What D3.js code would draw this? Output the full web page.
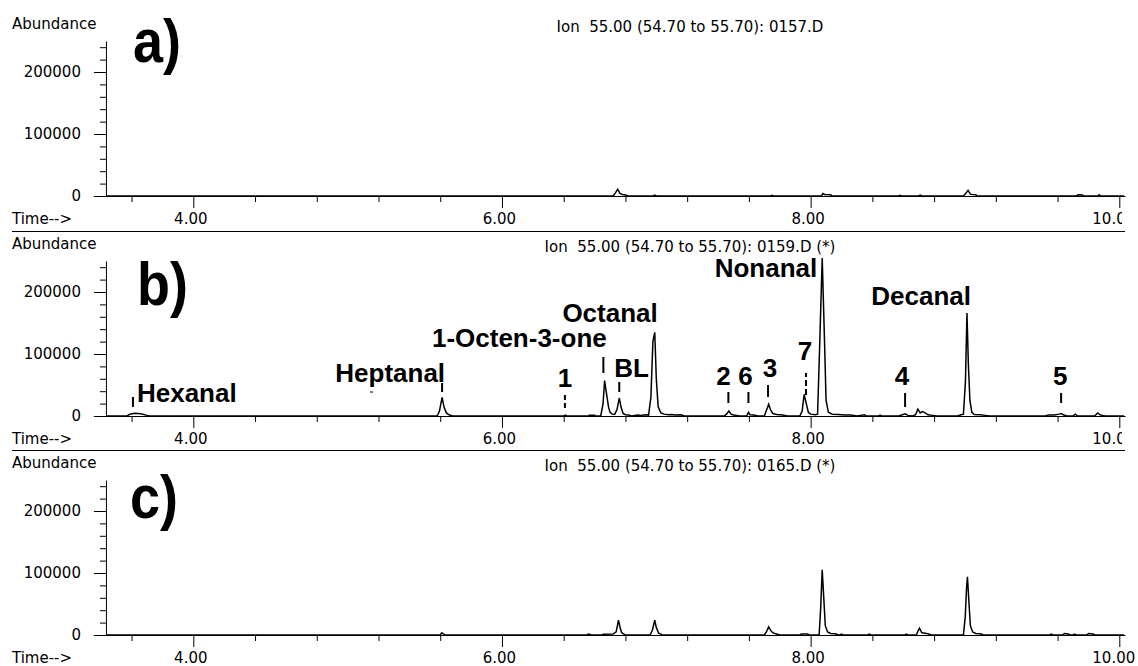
<!DOCTYPE html>
<html>
<head>
<meta charset="utf-8">
<script src="https://cdnjs.cloudflare.com/ajax/libs/d3/7.8.5/d3.min.js"></script>
<style>
  body { margin: 0; background: #fff; }
  svg { display: block; }
  .small { font-family: "DejaVu Sans", sans-serif; font-size: 15px; fill: #000; white-space: pre; }
  .tick text { font-family: "DejaVu Sans", sans-serif; font-size: 15px; fill: #000; }
  .peak { font-family: "Liberation Sans", Arial, sans-serif; font-weight: bold; font-size: 26px; fill: #000; }
  .letter { font-family: "Liberation Sans", Arial, sans-serif; font-weight: bold; font-size: 62px; fill: #000; }
</style>
</head>
<body>
<div id="chart"></div>
<script>
// Data (time in min, abundance)
var panelNames = ["a)", "b)", "c)"];
var fileNames = ["0157.D", "0159.D (*)", "0165.D (*)"];
var ionText = "Ion  55.00 (54.70 to 55.70): ";

var majorTimes = [4, 6, 8, 10];
var minorTimes = [3.6, 4.4, 4.8, 5.2, 5.6, 6.4, 6.8, 7.2, 7.6, 8.4, 8.8, 9.2, 9.6];
var majorAbund = [0, 100000, 200000];
var minorAbund = [20000, 40000, 60000, 80000, 120000, 140000, 160000, 180000, 220000, 240000];

var traceA = [
  [3.44, 0], [6.72, 0], [6.735, 5000], [6.75, 11000], [6.765, 4000], [6.78, 2500], [6.80, 1500], [6.82, 0],
  [6.98, 0], [6.99, 1500], [7.00, 0], [7.74, 0], [7.75, 1000], [7.76, 0],
  [8.07, 0], [8.08, 4000], [8.09, 2500], [8.13, 2000], [8.14, 0],
  [8.57, 0], [8.58, 1000], [8.59, 0], [8.70, 0], [8.71, 1500], [8.72, 0],
  [8.99, 0], [9.005, 4000], [9.02, 9000], [9.035, 3000], [9.05, 2500], [9.07, 2000], [9.08, 0],
  [9.72, 0], [9.735, 2000], [9.76, 1500], [9.77, 0], [9.86, 0], [9.87, 2000], [9.88, 0], [10.03, 0]
];

var traceB = [
  [3.44, 0], [3.57, 0], [3.59, 3000], [3.62, 4500], [3.66, 3500], [3.70, 1000], [3.72, 0],
  [5.58, 0], [5.595, 8000], [5.612, 30000], [5.625, 14000], [5.64, 5000], [5.66, 1500], [5.68, 0],
  [6.40, 0], [6.41, 1500], [6.42, 0], [6.56, 0], [6.565, 1200], [6.60, 1200], [6.605, 0],
  [6.64, 0], [6.655, 20000], [6.665, 57000], [6.675, 40000], [6.69, 15000], [6.70, 6000], [6.715, 3000],
  [6.73, 2500], [6.745, 10000], [6.76, 29000], [6.772, 14000], [6.785, 4000], [6.80, 2000], [6.82, 1500], [6.84, 0],
  [6.88, 1500], [6.90, 1000], [6.93, 2000], [6.95, 1500], [6.965, 30000], [6.978, 120000], [6.99, 135000],
  [7.00, 60000], [7.012, 15000], [7.03, 5000], [7.05, 3000], [7.08, 2000], [7.10, 2500], [7.12, 1500], [7.16, 2000], [7.18, 0],
  [7.44, 0], [7.455, 3000], [7.47, 8000], [7.485, 3000], [7.50, 1500], [7.52, 1000], [7.54, 0],
  [7.585, 0], [7.597, 6000], [7.607, 2000], [7.63, 1500], [7.66, 0],
  [7.70, 0], [7.715, 10000], [7.728, 19000], [7.74, 10000], [7.755, 4000], [7.78, 2500], [7.82, 1500], [7.85, 0],
  [7.93, 0], [7.945, 8000], [7.958, 35000], [7.97, 22000], [7.985, 6000], [8.00, 3000], [8.03, 2000],
  [8.045, 3000], [8.06, 125000], [8.075, 255000], [8.09, 120000], [8.10, 25000], [8.115, 6000], [8.14, 3000],
  [8.18, 2500], [8.22, 1500], [8.26, 1500], [8.30, 0], [8.35, 2000], [8.36, 0], [8.44, 0], [8.45, 1500], [8.46, 0],
  [8.57, 0], [8.59, 1500], [8.612, 3500], [8.63, 1000], [8.66, 0], [8.68, 2000], [8.695, 11000], [8.71, 5000],
  [8.725, 7000], [8.74, 5500], [8.76, 2000], [8.79, 1000], [8.82, 0],
  [8.95, 0], [8.975, 2000], [8.99, 3000], [9.003, 55000], [9.013, 166000], [9.022, 84000], [9.032, 25000],
  [9.045, 6000], [9.06, 2500], [9.10, 2000], [9.13, 1000], [9.16, 0],
  [9.52, 0], [9.54, 1500], [9.58, 1500], [9.61, 3000], [9.625, 4000], [9.64, 1500], [9.66, 0],
  [9.70, 0], [9.715, 3000], [9.73, 0], [9.84, 0], [9.86, 5000], [9.875, 2000], [9.89, 1000], [9.91, 0], [10.03, 0]
];

var traceC = [
  [3.44, 0], [5.60, 0], [5.61, 3500], [5.62, 2000], [5.63, 0],
  [6.55, 0], [6.56, 1500], [6.58, 0], [6.65, 0], [6.655, 1200], [6.72, 1500],
  [6.74, 5000], [6.755, 24000], [6.765, 12000], [6.775, 4000], [6.79, 1500], [6.80, 0],
  [6.96, 0], [6.975, 8000], [6.99, 24000], [7.00, 12000], [7.015, 3000], [7.03, 1500], [7.04, 0],
  [7.70, 0], [7.715, 6000], [7.728, 13000], [7.745, 6000], [7.76, 3000], [7.78, 1500], [7.80, 0],
  [7.93, 0], [7.94, 1500], [7.98, 1500], [7.99, 0],
  [8.055, 0], [8.065, 43000], [8.075, 105000], [8.085, 60000], [8.095, 15000], [8.11, 5000], [8.13, 2500], [8.16, 2000], [8.18, 0],
  [8.19, 0], [8.20, 1500], [8.21, 0], [8.37, 0], [8.38, 1500], [8.39, 0], [8.61, 0], [8.62, 1500], [8.63, 0],
  [8.685, 0], [8.695, 6000], [8.705, 11000], [8.72, 4000], [8.74, 3000], [8.76, 2000], [8.78, 0],
  [8.99, 0], [9.002, 30000], [9.01, 75000], [9.016, 94000], [9.024, 60000], [9.035, 15000], [9.05, 5000],
  [9.07, 2500], [9.10, 2000], [9.12, 0],
  [9.55, 0], [9.56, 1500], [9.57, 0], [9.63, 0], [9.645, 2500], [9.67, 1500], [9.68, 0],
  [9.70, 0], [9.71, 1500], [9.72, 0], [9.79, 0], [9.80, 2500], [9.83, 1500], [9.84, 0], [10.03, 0]
];
var traces = [traceA, traceB, traceC];

// peak annotations of panel b
var peakNames = ["Hexanal", "Heptanal", "1-Octen-3-one", "BL", "Octanal", "1", "2", "6", "3", "7", "Nonanal", "Decanal", "4", "5"];
var peakTimes = [3.609, 5.612, 6.657, 6.76, 6.99, 6.408, 7.467, 7.597, 7.724, 7.97, 8.075, 9.013, 8.612, 9.623];

// layout of those annotations (pixels: text dx, text base above zero, marker bottom/top above zero)
var labelLayout = [
  { dx: 4, base: 14, anchor: "start", m: [9, 19], dash: null },
  { dx: 3, base: 34, anchor: "end", m: [24, 33], dash: null },
  { dx: -84, base: 69, anchor: "middle", m: [43, 59], dash: null },
  { dx: -5, base: 39, anchor: "start", m: [24, 34], dash: null },
  { dx: 3, base: 94, anchor: "end", m: null, dash: null },
  { dx: 0, base: 29, anchor: "middle", m: [8, 23], dash: "5,3" },
  { dx: -5, base: 31, anchor: "middle", m: [13, 24], dash: null },
  { dx: -3, base: 31, anchor: "middle", m: [13, 24], dash: null },
  { dx: 2, base: 39, anchor: "middle", m: [19, 31], dash: null },
  { dx: -1, base: 56, anchor: "middle", m: [21, 43], dash: "6,3" },
  { dx: -5, base: 139, anchor: "end", m: null, dash: null },
  { dx: 4, base: 111, anchor: "end", m: null, dash: null },
  { dx: -3, base: 31, anchor: "middle", m: [9, 23], dash: null },
  { dx: -1, base: 31, anchor: "middle", m: [13, 23], dash: null }
];

var svgWidth = 1138;
var svgHeight = 666;
var zeros = [196, 416, 635];
var letterPos = [[133, 62], [137, 305], [130, 518]];
var tStart = 3.356, tEnd = 10.04, tYAxis = 3.434;

var svg = d3.select("#chart")
  .append("svg")
  .attr("width", svgWidth)
  .attr("height", svgHeight);

svg.append("defs").append("clipPath")
  .attr("id", "cut")
  .append("rect")
  .attr("x", 0).attr("y", 0)
  .attr("width", 1122).attr("height", svgHeight);

var x = d3.scaleLinear().domain([4, 10]).range([193.3, 1119.3]);

zeros.forEach(function(zero, i) {
  var y = d3.scaleLinear().domain([0, 250000]).range([zero, zero - 155]);
  var g = svg.append("g");

  // separator between panels
  if (i > 0) {
    g.append("line")
      .attr("x1", 12).attr("x2", 1125)
      .attr("y1", zero - 184.5).attr("y2", zero - 184.5)
      .attr("stroke", "#000");
  }

  // x axis
  g.append("line")
    .attr("x1", x(tStart)).attr("x2", x(tEnd))
    .attr("y1", zero + 0.5).attr("y2", zero + 0.5)
    .attr("stroke", "#000");

  var xMajor = g.append("g")
    .attr("transform", `translate(0, ${zero})`)
    .call(d3.axisBottom(x).tickValues(majorTimes).tickSize(12).tickPadding(5).tickFormat(d3.format(".2f")));
  xMajor.select(".domain").remove();
  xMajor.selectAll(".tick text").attr("dx", d => d == 10 ? -6 : -3);
  if (i < 2) xMajor.attr("clip-path", "url(#cut)");

  var xMinor = g.append("g")
    .attr("transform", `translate(0, ${zero})`)
    .call(d3.axisBottom(x).tickValues(minorTimes).tickSize(6).tickFormat(""));
  xMinor.select(".domain").remove();

  // y axis
  g.append("g")
    .attr("transform", `translate(${x(tYAxis)}, 0)`)
    .call(d3.axisLeft(y).tickValues(majorAbund).tickSize(12).tickSizeOuter(0).tickPadding(13).tickFormat(d3.format("d")));

  var yMinor = g.append("g")
    .attr("transform", `translate(${x(tYAxis)}, 0)`)
    .call(d3.axisLeft(y).tickValues(minorAbund).tickSize(6).tickFormat(""));
  yMinor.select(".domain").remove();

  // texts
  g.append("text").attr("class", "small").attr("x", 12).attr("y", zero - 167).text("Abundance");
  g.append("text").attr("class", "small").attr("x", 12).attr("y", zero + 28).text("Time-->");
  g.append("text").attr("class", "small")
    .attr("x", 690).attr("y", zero - 164)
    .attr("text-anchor", "middle")
    .text(ionText + fileNames[i]);

  g.append("text").attr("class", "letter")
    .attr("transform", `translate(${letterPos[i][0]}, ${letterPos[i][1]}) scale(0.87, 1)`)
    .text(panelNames[i]);

  // chromatogram trace
  var line = d3.line()
    .x(d => x(d[0]))
    .y(d => y(d[1]));

  g.append("path")
    .datum(traces[i])
    .attr("d", line)
    .attr("fill", "none")
    .attr("stroke", "#000")
    .attr("stroke-width", 1.5);

  // annotations on panel b
  if (i == 1) {
    peakNames.forEach(function(name, k) {
      var L = labelLayout[k];
      var px = x(peakTimes[k]);
      g.append("text").attr("class", "peak")
        .attr("x", px + L.dx).attr("y", zero - L.base)
        .attr("text-anchor", L.anchor)
        .text(name);
      if (L.m) {
        g.append("line")
          .attr("x1", px).attr("x2", px)
          .attr("y1", zero - L.m[0]).attr("y2", zero - L.m[1])
          .attr("stroke", "#000")
          .attr("stroke-width", 2)
          .attr("stroke-dasharray", L.dash);
      }
    });
    // stray mark under Heptanal
    g.append("line")
      .attr("x1", 370).attr("x2", 373)
      .attr("y1", zero - 24).attr("y2", zero - 24)
      .attr("stroke", "#000");
  }
});
</script>
</body>
</html>
